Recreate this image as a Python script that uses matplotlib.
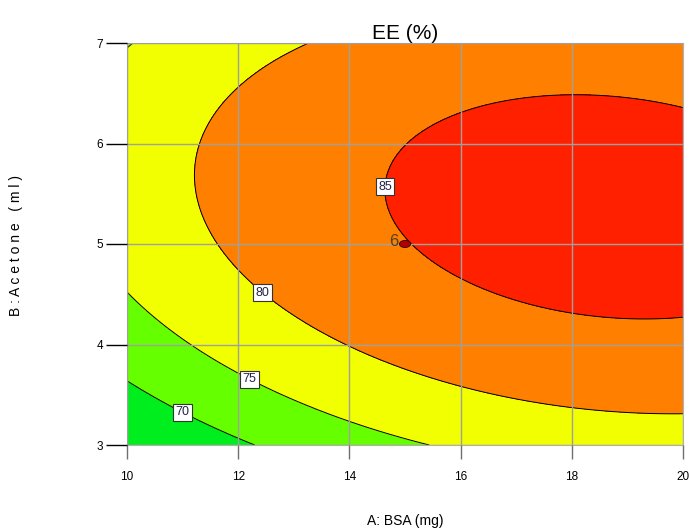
import matplotlib.pyplot as plt
import numpy as np
from matplotlib.patches import Ellipse

# contour points: A (mg), B (ml), EE level (%)
pt_A = [14.61, 15.0, 15.03, 16, 18, 20, 16, 18, 20,
        13.32, 12, 11.33, 11.24, 11.61, 12, 12.49, 14, 16, 18, 20,
        10, 12, 14, 15.36, 10.05,
        10, 12, 12.25]
pt_B = [5.57, 6.0, 5.0, 6.31, 6.48, 6.36, 4.64, 4.31, 4.27,
        7.0, 6.54, 6.0, 5.67, 5.0, 4.74, 4.55, 3.98, 3.58, 3.375, 3.32,
        4.52, 3.70, 3.24, 3.0, 7.0,
        3.63, 3.09, 3.0]
pt_EE = [85]*9 + [80]*11 + [75]*5 + [70]*3

levels = [70, 75, 80, 85]
band_colors = ['#00ee1e', '#66ff00', '#f2ff00', '#ff8000', '#ff2000']
label_pos = [(11.04, 3.38), (12.25, 3.70), (12.49, 4.55), (14.61, 5.57)]

center_A, center_B, center_n = 15, 5, 6

# quadratic response surface in coded units, fitted to the read points
def terms(A, B):
    a = (np.asarray(A) - 15) / 5.0
    b = (np.asarray(B) - 5) / 2.0
    return np.stack([np.ones_like(a), a, b, a*b, a*a, b*b], axis=-1)

coef = np.linalg.lstsq(terms(pt_A, pt_B), np.array(pt_EE, float), rcond=None)[0]

xs = np.linspace(10, 20, 400)
ys = np.linspace(3, 7, 400)
X, Y = np.meshgrid(xs, ys)
Z = terms(X, Y) @ coef

fig = plt.figure(figsize=(6.89, 5.29), dpi=100, facecolor='white')
ax = fig.add_axes([127/689, 84/529, 556/689, 402/529])

bounds = [min(Z.min(), 60) - 1] + levels + [max(Z.max(), 95) + 1]
ax.contourf(X, Y, Z, levels=bounds, colors=band_colors)
cs = ax.contour(X, Y, Z, levels=levels, colors='black', linewidths=0.7)
txts = ax.clabel(cs, levels, fmt='%d', fontsize=9, inline=False, manual=label_pos)
for t in txts:
    t.set_rotation(0)
    t.set_bbox(dict(facecolor='white', edgecolor='#333333', pad=1.8, linewidth=0.8))
    t.set_color('#222244')
    t.set_family('Liberation Sans')
    t.set_zorder(5)

ax.add_patch(Ellipse((center_A, center_B), 0.2, 0.07, facecolor='#b00000',
                     edgecolor='#300000', linewidth=0.6, zorder=4))
ax.text(center_A - 0.12, center_B + 0.02, str(center_n), ha='right', va='center',
        fontsize=12, color='#504020', family='Liberation Sans')

ax.set_xlim(10, 20)
ax.set_ylim(3, 7)
ax.set_xticks([10, 12, 14, 16, 18, 20])
ax.set_yticks([3, 4, 5, 6, 7])
ax.grid(True, color='#a0a0a0', linewidth=1.0)
ax.set_axisbelow(False)
for s in ax.spines.values():
    s.set_color('#b0b0b0')
ax.tick_params(axis='y', direction='out', length=15, width=1, color='black',
               labelsize=8.5, pad=2)
ax.tick_params(axis='x', direction='out', length=10, width=1, color='#707070',
               labelsize=8.5, pad=9)
for lab in ax.get_xticklabels() + ax.get_yticklabels():
    lab.set_family('Liberation Sans')

ax.set_title('EE (%)', fontsize=15, family='Liberation Sans', pad=3)
fig.text(405/689, 1 - 521/529, 'A: BSA (mg)', ha='center', va='center',
         fontsize=10, family='Liberation Sans')
fig.text(16/689, 1 - 245/529, 'B : A c e t o n e   ( m l )', ha='center', va='center',
         rotation=90, fontsize=10, family='Liberation Sans')

fig.savefig('out.png', dpi=100, facecolor='white')
